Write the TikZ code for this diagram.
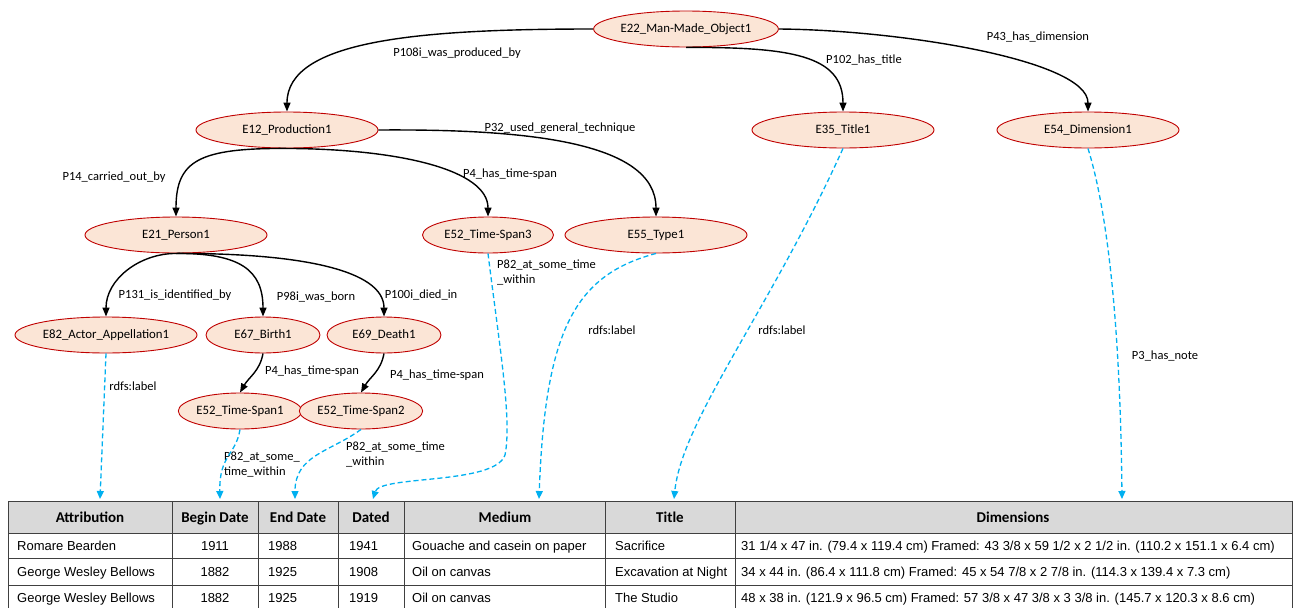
\documentclass[tikz,border=0pt]{standalone}
\usepackage{fontspec}
\setmainfont{Liberation Sans}
\newfontfamily\calibri{Carlito}
\usetikzlibrary{shapes.geometric, arrows.meta}

\definecolor{nodefill}{RGB}{251,229,214}
\definecolor{noderim}{RGB}{192,0,0}
\definecolor{linkblue}{RGB}{0,176,240}
\definecolor{headgray}{RGB}{217,217,217}
\definecolor{gridgray}{RGB}{64,64,64}

\tikzset{
  entity/.style={draw=noderim, fill=nodefill, ellipse, line width=0.9pt, minimum height=36pt, inner sep=0pt, font=\calibri\fontsize{12.8}{15}\selectfont},
  wide/.style={entity, minimum width=182pt},
  narrow/.style={entity, minimum width=114pt},
  prop/.style={-{Triangle[length=9pt,width=7pt]}, line width=1.4pt},
  literal/.style={-{Triangle[length=8pt,width=7pt]}, draw=linkblue, line width=1.3pt, dash pattern=on 5pt off 3pt},
  lbl/.style={font=\calibri\fontsize{12.5}{15}\selectfont, inner sep=0pt, align=left},
  headcell/.style={font=\calibri\bfseries\fontsize{15}{17}\selectfont, inner sep=0pt, anchor=base},
  cell/.style={font=\fontsize{13}{15}\selectfont, inner sep=0pt, anchor=base west}
}

\begin{document}
\begin{tikzpicture}[x=1pt, y=1pt]
    \useasboundingbox (0,0) rectangle (1294,-608);

    \node[wide] (obj) at (686,-29) {E22\_Man-Made\_Object1};
    \node[wide] (prod) at (287,-130) {E12\_Production1};
    \node[wide] (title) at (843,-130) {E35\_Title1};
    \node[wide] (dim) at (1088,-130) {E54\_Dimension1};
    \node[wide] (person) at (176,-235) {E21\_Person1};
    \node[entity, minimum width=131pt] (ts3) at (488,-235) {E52\_Time-Span3};
    \node[wide] (type) at (656,-235) {E55\_Type1};
    \node[wide] (appel) at (106,-335) {E82\_Actor\_Appellation1};
    \node[narrow] (birth) at (263,-335) {E67\_Birth1};
    \node[narrow] (death) at (384,-335) {E69\_Death1};
    \node[narrow] (ts1) at (240,-411) {E52\_Time-Span1};
    \node[narrow] (ts2) at (361,-411) {E52\_Time-Span2};

    \draw[prop] (obj.west) .. controls (420,-29) and (287,-40) .. (prod.north);
    \draw[prop] (obj.south) .. controls (790,-47) and (843,-55) .. (title.north);
    \draw[prop] (obj.east) .. controls (900,-30) and (1088,-60) .. (dim.north);
    \draw[prop] (prod.south) .. controls (200,-148) and (176,-160) .. (person.north);
    \draw[prop] (prod.south) .. controls (400,-149) and (488,-170) .. (ts3.north);
    \draw[prop] (prod.east) .. controls (520,-129) and (656,-140) .. (type.north);
    \draw[prop] (person.south) to[out=180,in=90] (appel.north);
    \draw[prop] (person.south) .. controls (240,-253) and (263,-270) .. (birth.north);
    \draw[prop] (person.south) .. controls (300,-253) and (384,-270) .. (death.north);
    \draw[prop] (birth.south) to[out=-100,in=60] (ts1.north);
    \draw[prop] (death.south) to[out=-100,in=60] (ts2.north);

    \node[lbl] (l1) at (457,-53) {P108i\_was\_produced\_by};
    \node[lbl] (l2) at (864,-60) {P102\_has\_title};
    \node[lbl] (l3) at (1038,-37) {P43\_has\_dimension};
    \node[lbl] (l4) at (560,-128) {P32\_used\_general\_technique};
    \node[lbl] (l5) at (114,-177) {P14\_carried\_out\_by};
    \node[lbl] (l6) at (510,-174) {P4\_has\_time-span};
    \node[lbl] (l7) at (175,-295) {P131\_is\_identified\_by};
    \node[lbl] (l8) at (316,-297) {P98i\_was\_born};
    \node[lbl] (l9) at (421,-295) {P100i\_died\_in};
    \node[lbl] (l10) at (312,-371) {P4\_has\_time-span};
    \node[lbl] (l11) at (437,-375) {P4\_has\_time-span};
    \node[lbl] (l12) at (133,-386) {rdfs:label};
    \node[lbl, anchor=west] (l13) at (224,-465) {P82\_at\_some\_\\time\_within};
    \node[lbl, anchor=west] (l14) at (346,-455) {P82\_at\_some\_time\\\_within};
    \node[lbl, anchor=west] (l15) at (497,-273) {P82\_at\_some\_time\\\_within};
    \node[lbl] (l16) at (612,-330) {rdfs:label};
    \node[lbl] (l17) at (782,-330) {rdfs:label};
    \node[lbl] (l18) at (1165,-356) {P3\_has\_note};

    \coordinate (cAttr) at (100,-499);
    \coordinate (cBegin) at (220,-499);
    \coordinate (cEnd) at (295,-499);
    \coordinate (cDated) at (373,-499);
    \coordinate (cMedium) at (539,-499);
    \coordinate (cTitle) at (674,-499);
    \coordinate (cDim) at (1122,-499);

    \draw[literal] (appel.south) -- (cAttr);
    \draw[literal] (ts1.south) .. controls (236,-455) and (219,-455) .. (cBegin);
    \draw[literal] (ts2.south) .. controls (330,-452) and (295,-455) .. (cEnd);
    \draw[literal] (ts3.south) .. controls (500,-350) and (512,-420) .. (505,-455) .. controls (495,-485) and (380,-475) .. (cDated);
    \draw[literal] (type.south) .. controls (575,-275) and (545,-330) .. (cMedium);
    \draw[literal] (title.south) .. controls (770,-310) and (682,-420) .. (cTitle);
    \draw[literal] (dim.south) .. controls (1104,-200) and (1120,-300) .. (cDim);

    \fill[headgray] (8,-501) rectangle (1292,-533);
    \draw[gridgray, line width=0.9pt] (8,-501) -- (1292,-501) (8,-533) -- (1292,-533)
        (8,-558) -- (1292,-558) (8,-585) -- (1292,-585);
    \foreach \cx in {8,172,258,338,404,605,735,1292}
        \draw[gridgray, line width=0.9pt] (\cx,-501) -- (\cx,-608);

    \node[headcell] (hAttr) at (90,-522) {Attribution};
    \node[headcell] (hBegin) at (215,-522) {Begin Date};
    \node[headcell] (hEnd) at (298,-522) {End Date};
    \node[headcell] (hDated) at (371,-522) {Dated};
    \node[headcell] (hMedium) at (505,-522) {Medium};
    \node[headcell] (hTitle) at (670,-522) {Title};
    \node[headcell] (hDim) at (1013,-522) {Dimensions};

    \node[cell] (a1) at (17,-550) {Romare Bearden};
    \node[cell, anchor=base] (b1) at (215,-550) {1911};
    \node[cell] (e1) at (268,-550) {1988};
    \node[cell] (d1) at (349,-550) {1941};
    \node[cell] (m1) at (412,-550) {Gouache and casein on paper};
    \node[cell] (t1) at (615,-550) {Sacrifice};
    \node[cell] (s1) at (741,-550) {31 1/4 x 47 in. (79.4 x 119.4 cm) Framed: 43 3/8 x 59 1/2 x 2 1/2 in. (110.2 x 151.1 x 6.4 cm)};

    \node[cell] (a2) at (17,-576) {George Wesley Bellows};
    \node[cell, anchor=base] (b2) at (215,-576) {1882};
    \node[cell] (e2) at (268,-576) {1925};
    \node[cell] (d2) at (349,-576) {1908};
    \node[cell] (m2) at (412,-576) {Oil on canvas};
    \node[cell] (t2) at (615,-576) {Excavation at Night};
    \node[cell] (s2) at (741,-576) {34 x 44 in. (86.4 x 111.8 cm) Framed: 45 x 54 7/8 x 2 7/8 in. (114.3 x 139.4 x 7.3 cm)};

    \node[cell] (a3) at (17,-602) {George Wesley Bellows};
    \node[cell, anchor=base] (b3) at (215,-602) {1882};
    \node[cell] (e3) at (268,-602) {1925};
    \node[cell] (d3) at (349,-602) {1919};
    \node[cell] (m3) at (412,-602) {Oil on canvas};
    \node[cell] (t3) at (615,-602) {The Studio};
    \node[cell] (s3) at (741,-602) {48 x 38 in. (121.9 x 96.5 cm) Framed: 57 3/8 x 47 3/8 x 3 3/8 in. (145.7 x 120.3 x 8.6 cm)};
\end{tikzpicture}
\end{document}
